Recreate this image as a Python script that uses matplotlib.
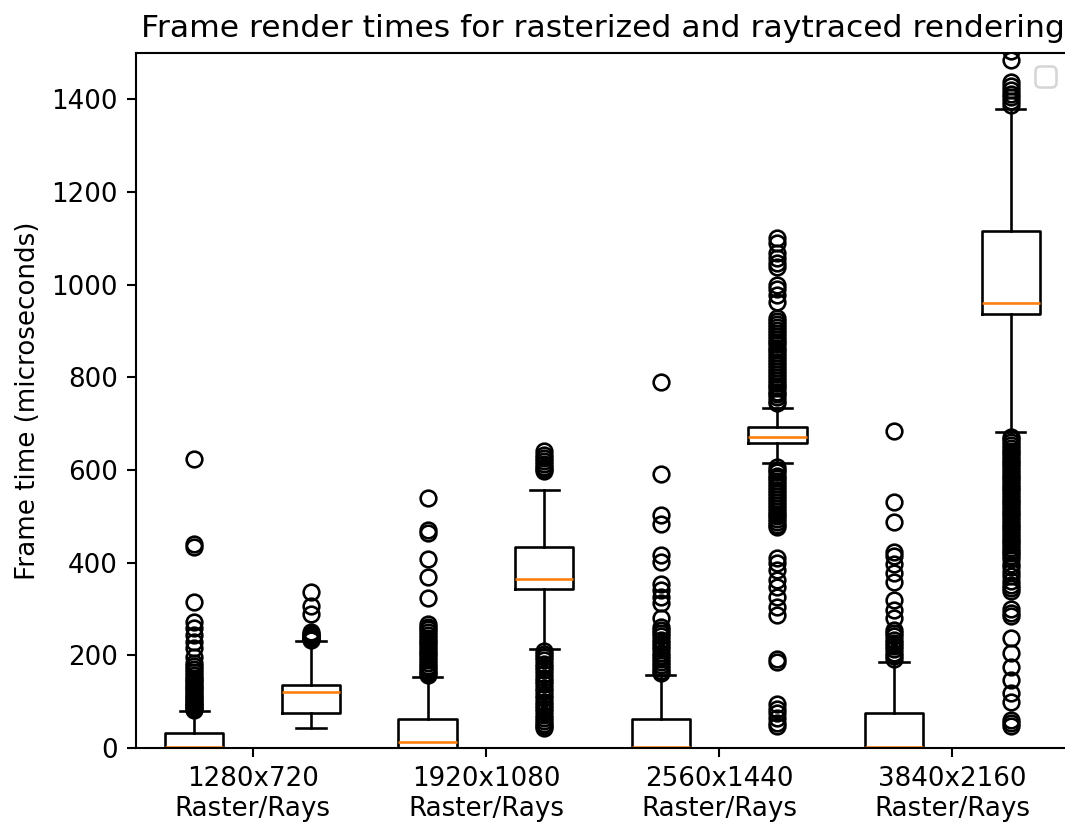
import matplotlib
matplotlib.use("Agg")
import matplotlib.pyplot as plt

resolutions = ["1280x720", "1920x1080", "2560x1440", "3840x2160"]

# box statistics per run: raster then rays for each resolution (microseconds)
medians = [2, 120, 14, 364, 2, 672, 3, 961]
q1s = [0, 75, 0, 343, 0, 659, 0, 936]
q3s = [32, 136, 63, 433, 63, 692, 75, 1115]
whislos = [0, 44, 0, 214, 0, 615, 0, 681]
whishis = [80, 231, 153, 556, 157, 733, 185, 1379]

fliers_720_raster = [623, 440, 434, 316, 272, 258, 244, 229, 215, 197, 183, 176, 170,
                     164, 158, 152, 147, 142, 137, 132, 127, 122, 117, 112, 108, 104,
                     100, 96, 92, 88, 85, 82]
fliers_720_rays = [337, 307, 289, 251, 247, 244, 241, 239, 237, 235, 233]

fliers_1080_raster = [539, 470, 464, 407, 368, 324, 268, 262, 256, 250, 244, 238, 232,
                      226, 220, 214, 208, 202, 196, 190, 184, 178, 172, 166, 161, 157]
fliers_1080_rays = [640, 632, 625, 619, 613, 607, 602, 597,
                    210, 203, 196, 189, 182, 175, 168, 160, 152, 145, 138, 130, 122,
                    115, 108, 100, 93, 86, 79, 72, 65, 58, 52, 47, 44]

fliers_1440_raster = [790, 591, 503, 483, 416, 402, 355, 341, 326, 312, 280, 262, 255,
                      248, 241, 234, 227, 220, 213, 206, 199, 192, 185, 179, 173, 167, 162]
fliers_1440_rays = [1100, 1089, 1068, 1058, 1047, 1038, 999, 990, 978, 963,
                    928, 921, 915, 909, 902, 896, 890, 883, 877, 871, 864, 858, 852,
                    845, 839, 833, 826, 820, 814, 807, 801, 795, 788, 782, 776, 769,
                    763, 757, 750, 744,
                    607, 601, 595, 588, 582, 576, 569, 563, 557, 550, 544, 538, 531,
                    525, 519, 512, 506, 500, 494, 488, 482, 477,
                    409, 400, 384, 362, 348, 326, 305, 287, 192, 186,
                    95, 85, 75, 65, 55, 47]

fliers_2160_raster = [685, 531, 488, 423, 415, 398, 377, 359, 319, 298, 280, 255, 248,
                      241, 234, 227, 220, 213, 206, 199, 193]
fliers_2160_rays = [1505, 1484, 1437, 1428, 1420, 1412, 1404, 1396, 1388,
                    672, 666, 660, 654, 648, 642, 636, 630, 624, 618, 612, 606, 600,
                    594, 588, 582, 576, 570, 564, 558, 552, 546, 540, 534, 528, 522,
                    516, 510, 504, 498, 492, 486, 480, 474, 468, 462, 456, 450, 444,
                    438, 432, 426, 420, 414, 408, 398, 390, 380, 372, 360, 352, 345,
                    338, 300, 292, 285, 237, 204, 175, 147, 118, 100, 60, 54, 48]

fliers = [fliers_720_raster, fliers_720_rays, fliers_1080_raster, fliers_1080_rays,
          fliers_1440_raster, fliers_1440_rays, fliers_2160_raster, fliers_2160_rays]

stats = []
for i in range(len(medians)):
    stats.append({"med": medians[i], "q1": q1s[i], "q3": q3s[i],
                  "whislo": whislos[i], "whishi": whishis[i], "fliers": fliers[i]})

fig = plt.figure(figsize=(1065 / 188, 825 / 188), dpi=188)
ax = fig.add_axes([136 / 1065, 77 / 825, 933 / 1065, 695 / 825])

positions = list(range(1, len(stats) + 1))
ax.bxp(stats, positions=positions, manage_ticks=False)

ax.set_xlim(0.5, 8.5)
ax.set_ylim(0, 1500)
ax.set_xticks([1.5, 3.5, 5.5, 7.5])
ax.set_xticklabels([r + "\nRaster/Rays" for r in resolutions])
ax.set_yticks(range(0, 1401, 200))
ax.set_ylabel("Frame time (microseconds)")
ax.set_title("Frame render times for rasterized and raytraced rendering")
ax.spines["right"].set_visible(False)
ax.legend(loc="upper right")

fig.savefig("out.png", dpi=188)
